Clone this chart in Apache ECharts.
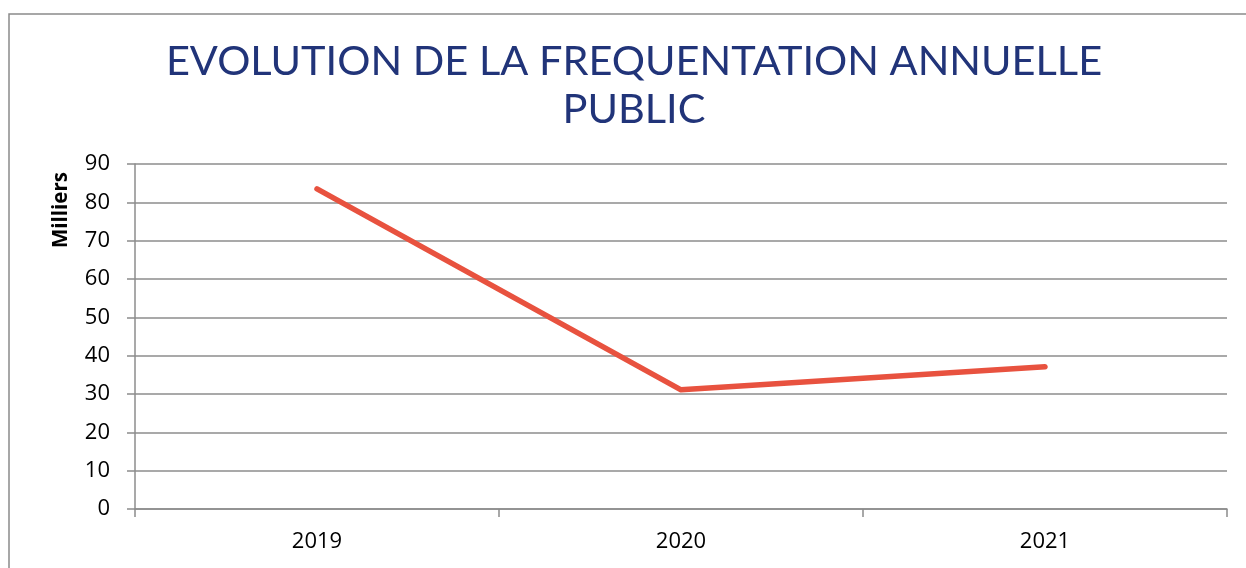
<!DOCTYPE html>
<html>
<head>
<meta charset="utf-8">
<script src="https://cdn.jsdelivr.net/npm/echarts@6/dist/echarts.min.js"></script>
<style>
  html, body { margin: 0; padding: 0; background: #fff; }
  #main { width: 1246px; height: 568px; }
</style>
</head>
<body>
<div id="main"></div>
<script>
// données
var years = ['2019', '2020', '2021'];
var visitors = [83.5, 31.1, 37.1]; // en milliers
var yTicks = [0, 90, 10]; // min, max, pas

var myChart = echarts.init(document.getElementById('main'));

var gridColor = '#8c8c8c';

var option = {
    backgroundColor: '#fff',
    animation: false,
    title: {
        text: 'EVOLUTION DE LA FREQUENTATION ANNUELLE\nPUBLIC',
        left: 634,
        top: 33,
        textAlign: 'center',
        textStyle: {
            fontFamily: 'Lato',
            fontWeight: 'normal',
            fontSize: 41.5,
            lineHeight: 48,
            color: '#213479'
        }
    },
    graphic: [
        // cadre du graphique
        {
            type: 'rect',
            shape: { x: 9, y: 14, width: 1300, height: 600 },
            style: { fill: null, stroke: '#8a8a8a', lineWidth: 1.5 },
            silent: true
        },
        // titre de l'axe vertical
        {
            type: 'text',
            x: 61,
            y: 210,
            rotation: Math.PI / 2,
            style: {
                text: 'Milliers',
                fontFamily: 'Open Sans',
                fontWeight: 'bold',
                fontSize: 20.5,
                fill: '#000',
                align: 'center',
                verticalAlign: 'middle'
            }
        }
    ],
    grid: {
        left: 135,
        top: 164,
        right: 19,
        bottom: 59
    },
    xAxis: {
        type: 'category',
        data: years,
        boundaryGap: true,
        axisLine: { lineStyle: { color: gridColor, width: 1.5 } },
        axisTick: { show: true, length: 8, lineStyle: { color: gridColor, width: 1.5 } },
        axisLabel: {
            margin: 22,
            fontFamily: 'Open Sans',
            fontSize: 22,
            color: '#000'
        },
        splitLine: { show: false }
    },
    yAxis: {
        type: 'value',
        min: yTicks[0],
        max: yTicks[1],
        interval: yTicks[2],
        axisLine: { show: true, lineStyle: { color: gridColor, width: 1.5 } },
        axisTick: { show: true, length: 8, lineStyle: { color: gridColor, width: 1.5 } },
        axisLabel: {
            margin: 25,
            fontFamily: 'Open Sans',
            fontSize: 22,
            color: '#000'
        },
        splitLine: { show: true, lineStyle: { color: gridColor, width: 1.5 } }
    },
    series: [{
        name: 'Public',
        type: 'line',
        data: visitors,
        symbol: 'none',
        lineStyle: { color: '#e8523f', width: 5.5, cap: 'round', join: 'round' },
        itemStyle: { color: '#e8523f' }
    }]
};

// léger décalage du titre vers la gauche
option.title.left = 629;

myChart.setOption(option);
window.addEventListener('resize', myChart.resize);
</script>
</body>
</html>
